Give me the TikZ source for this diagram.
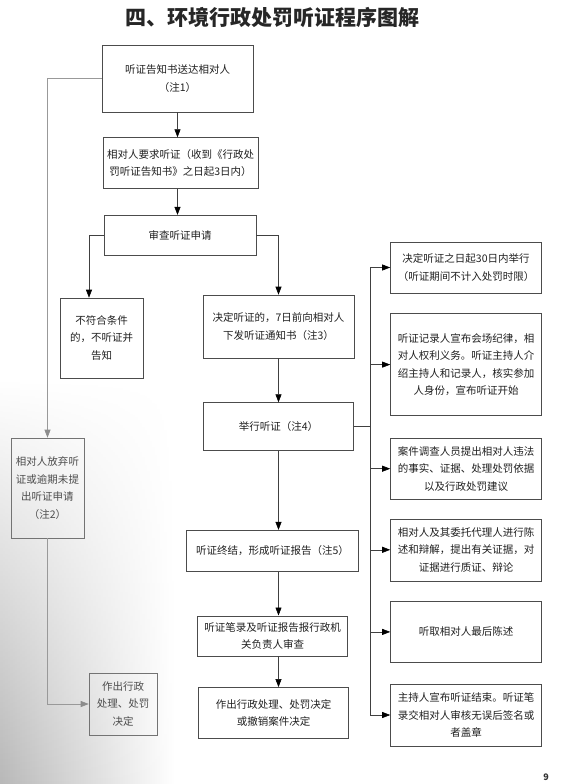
\documentclass[tikz,border=0pt]{standalone}
\usepackage{fontspec}
\setmainfont{Noto Sans CJK SC}
\usepackage{xcolor}
\usepackage{tikz}
\usetikzlibrary{arrows.meta, positioning, fadings}

\begin{document}
\begin{tikzpicture}[x=1pt, y=-1pt, node distance=20pt]
  \tikzset{
    mbox/.style={rectangle, draw=black!70, line width=0.6pt, text=black!88,
                 inner sep=2pt, align=center, font=\fontsize{10.5}{17.5}\selectfont},
    sbox/.style={mbox, minimum width=151pt},
    gbox/.style={mbox, draw=black!55, text=black!70},
    line/.style={draw=black!75, line width=0.6pt},
    arr/.style={line, -{Triangle[length=8pt, width=6pt, color=black]}},
    garr/.style={draw=black!40, line width=0.6pt,
                 -{Triangle[length=8pt, width=6pt, color=black!45]}}
  }
  \useasboundingbox (0,0) rectangle (566,784);
  % scan shadow, lower left
  \shade[left color=black!28, right color=white, path fading=north]
    (0,380) rectangle (175,784);
  % Title
  \node[font=\fontsize{21}{24}\selectfont\bfseries, text=black!85] (title) at (272.5,18)
    {四、环境行政处罚听证程序图解};
  % Main column
  \node[mbox, minimum width=151pt, minimum height=67pt] (notice) at (177.5,78.5)
    {听证告知书送达相对人\\（注1）};
  \node[mbox, minimum width=155pt, minimum height=51pt, below=25pt of notice, xshift=3pt] (req)
    {相对人要求听证（收到《行政处\\罚听证告知书》之日起3日内）};
  \node[mbox, minimum width=152pt, minimum height=40pt, below=26pt of req, xshift=-0.5pt] (chk)
    {审查听证申请};
  \node[mbox, minimum width=83pt, minimum height=80pt] (nofit) at (101.5,338)
    {不符合条件\\的，不听证并\\告知};
  \node[mbox, minimum width=151pt, minimum height=63pt] (dec) at (278.5,326.5)
    {决定听证的，7日前向相对人\\下发听证通知书（注3）};
  \node[mbox, minimum width=150pt, minimum height=48pt, below=44pt of dec] (hold)
    {举行听证（注4）};
  \node[mbox, minimum width=172pt, minimum height=41pt, below=79pt of hold, xshift=-6pt] (fin)
    {听证终结，形成听证报告（注5）};
  \node[mbox, minimum width=150pt, minimum height=40pt, below=44pt of fin] (rev)
    {听证笔录及听证报告报行政机\\关负责人审查};
  \node[mbox, minimum width=150pt, minimum height=51pt, below=31pt of rev, xshift=1pt] (act)
    {作出行政处理、处罚决定\\或撤销案件决定};
  % Left branch (waived)
  \node[gbox, minimum width=73pt, minimum height=100pt] (giveup) at (47.5,488)
    {相对人放弃听\\证或逾期未提\\出听证申请\\（注2）};
  \node[gbox, minimum width=68pt, minimum height=62pt] (decl) at (123,704)
    {作出行政\\处理、处罚\\决定};
  % Hearing steps, right column
  \node[sbox, minimum height=51pt] (r1) at (466,267.5)
    {决定听证之日起30日内举行\\（听证期间不计入处罚时限）};
  \node[sbox, minimum height=102pt, below=20pt of r1] (r2)
    {听证记录人宣布会场纪律，相\\对人权利义务。听证主持人介\\绍主持人和记录人，核实参加\\人身份，宣布听证开始};
  \node[sbox, minimum height=61pt, below=22pt of r2] (r3)
    {案件调查人员提出相对人违法\\的事实、证据、处理处罚依据\\以及行政处罚建议};
  \node[sbox, minimum height=62pt, below=19pt of r3] (r4)
    {相对人及其委托代理人进行陈\\述和辩解，提出有关证据，对\\证据进行质证、辩论};
  \node[sbox, minimum height=61pt, below=20pt of r4] (r5)
    {听取相对人最后陈述};
  \node[sbox, minimum height=62pt, below=21pt of r5] (r6)
    {主持人宣布听证结束。听证笔\\录交相对人审核无误后签名或\\者盖章};
  \node[font=\fontsize{9}{10}\selectfont\bfseries, text=black!80] (pg) at (546,777) {9};
  % Main arrows
  \foreach \a/\b in {notice/req,req/chk}
    \draw[arr] (\a.south -| notice) -- (\b.north -| notice);
  \draw[arr] (chk.west) -| ([xshift=-12.5pt]nofit.north);
  \draw[arr] (chk.east) -| (dec.north);
  \foreach \a/\b in {dec/hold,hold/fin,fin/rev,rev/act}
    \draw[arr] (\a.south -| hold) -- (\b.north -| hold);
  % Bus to hearing steps
  \coordinate (bus) at (370,0);
  \draw[line, line width=1.4pt] (hold.east) -- (hold.east -| bus);
  \draw[line] (bus |- r1.west) -- (bus |- r6.west);
  \foreach \r in {r1,r2,r3,r4,r5,r6}
    \draw[arr] (bus |- \r.west) -- (\r.west);
  % Left branch arrows
  \draw[garr] (notice.west) -| (giveup.north);
  \draw[garr] (giveup.south) |- (decl.west);
\end{tikzpicture}
\end{document}
